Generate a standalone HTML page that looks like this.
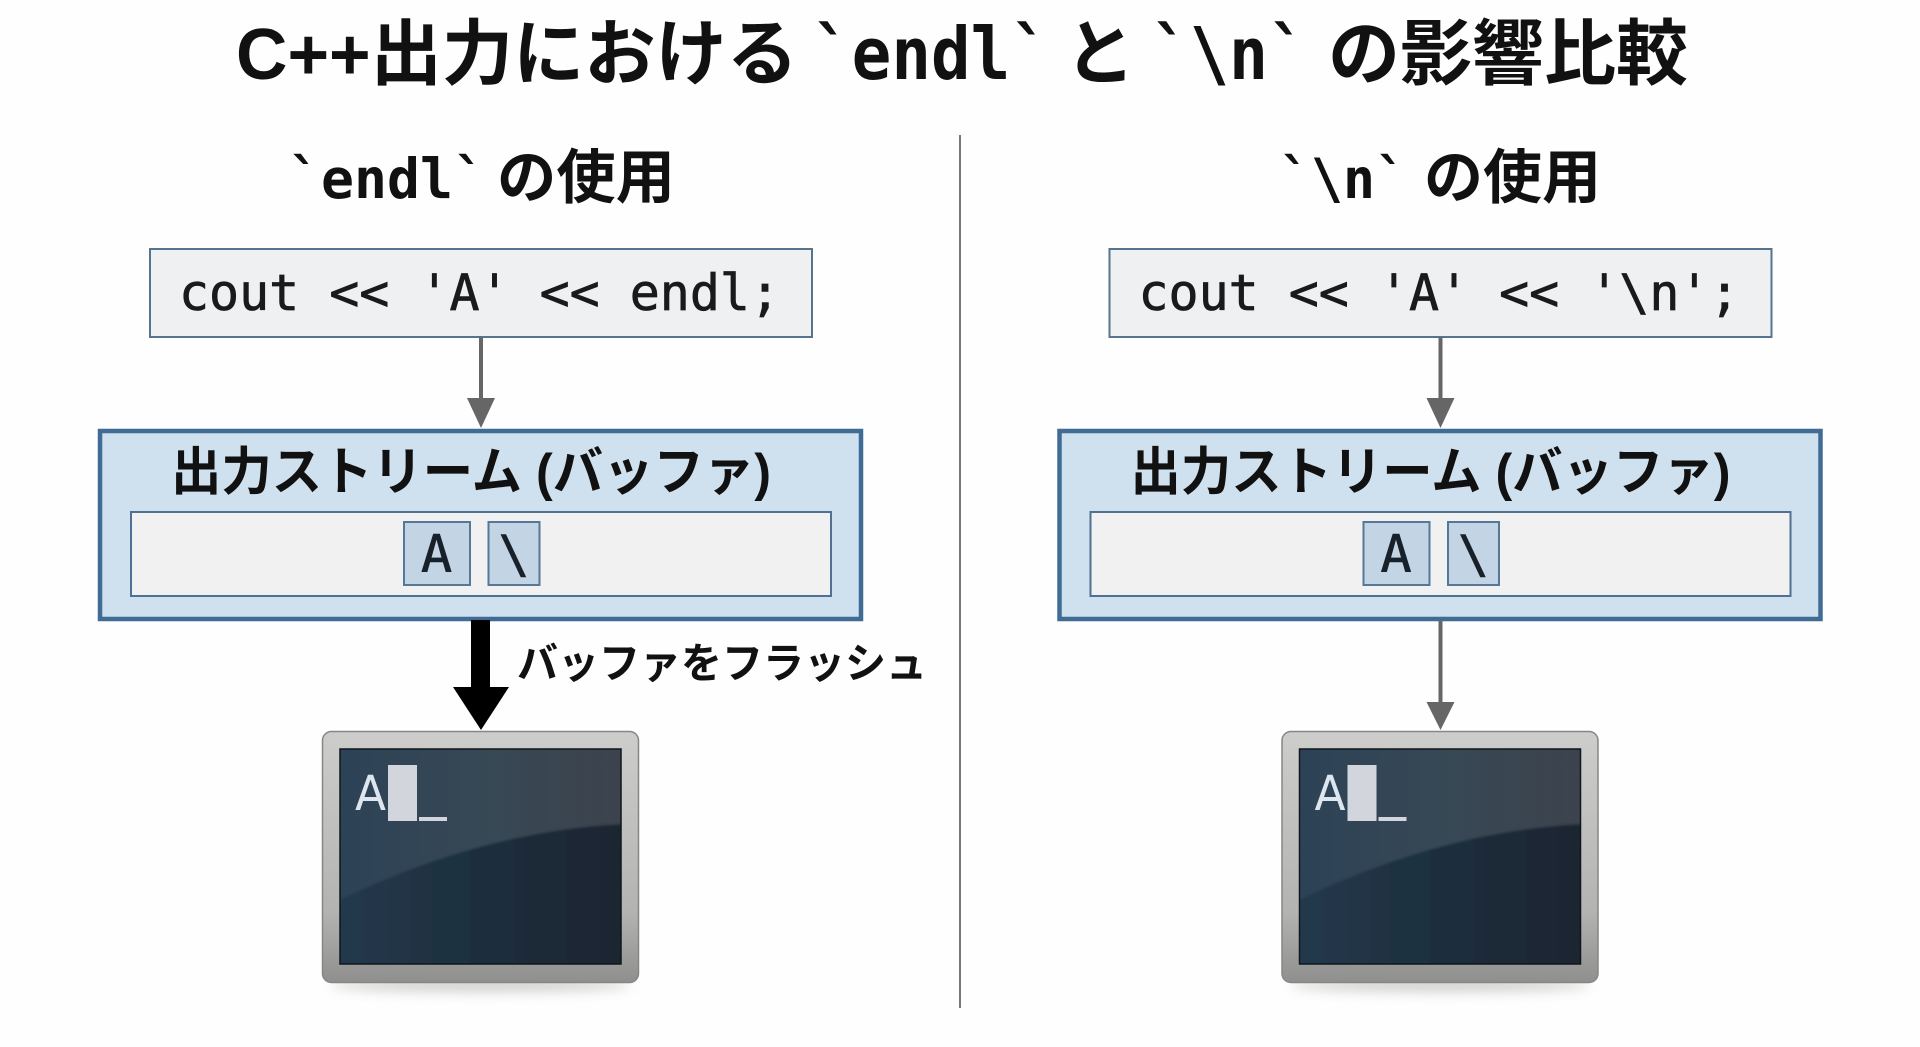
<!DOCTYPE html>
<html lang="ja">
<head>
<meta charset="utf-8">
<title>C++出力における endl と \n の影響比較</title>
<style>
html,body{margin:0;padding:0;background:#fefefe;width:1920px;height:1047px;overflow:hidden}
svg{display:block}
.jp{font-family:"Liberation Sans","Noto Sans CJK JP",sans-serif;font-weight:700;fill:#111}
.m{font-family:"DejaVu Sans Mono","Liberation Mono",monospace;fill:#111}
.b{font-weight:700}
.code{font-family:"DejaVu Sans Mono","Liberation Mono",monospace;font-size:50px;fill:#1a1a1a;stroke:#1a1a1a;stroke-width:.7px}
.cell{font-family:"DejaVu Sans Mono","Liberation Mono",monospace;font-size:52px;fill:#18202a;stroke:#18202a;stroke-width:.6px;text-anchor:middle}
.term{font-family:"DejaVu Sans","Liberation Sans",sans-serif;font-size:48px;fill:#dde5ee}
</style>
</head>
<body>
<svg width="1920" height="1047" viewBox="0 0 1920 1047" xmlns="http://www.w3.org/2000/svg">
<defs>
<linearGradient id="frame" x1="0" y1="0" x2="0" y2="1">
<stop offset="0" stop-color="#cdcdcb"/><stop offset=".72" stop-color="#b3b3b1"/><stop offset="1" stop-color="#8f8f8e"/>
</linearGradient>
<linearGradient id="scr" x1="0" y1="0" x2="1" y2="0">
<stop offset="0" stop-color="#2c4256"/><stop offset=".5" stop-color="#374855"/><stop offset="1" stop-color="#3c434d"/>
</linearGradient>
<linearGradient id="low" x1="0" y1="0" x2="1" y2="0">
<stop offset="0" stop-color="#24394e"/><stop offset=".55" stop-color="#1d2e3c"/><stop offset="1" stop-color="#1b2431"/>
</linearGradient>
<filter id="blur" x="-20%" y="-100%" width="140%" height="300%"><feGaussianBlur stdDeviation="6"/></filter>
<filter id="soft" x="-5%" y="-5%" width="110%" height="110%"><feGaussianBlur stdDeviation="1"/></filter>
<clipPath id="clipL"><rect x="340" y="749" width="281" height="215"/></clipPath>
<clipPath id="clipR"><rect x="1299.500" y="749" width="281" height="215"/></clipPath>
</defs>

<rect width="1920" height="1047" fill="#fefefe"/>

<!-- title -->
<text class="jp" x="236" y="79" font-size="72" textLength="562" lengthAdjust="spacingAndGlyphs">C++出力における</text>
<text class="m b" x="812" y="79" font-size="72" textLength="238" lengthAdjust="spacingAndGlyphs">`endl`</text>
<text class="jp" x="1065" y="79" font-size="72" textLength="70" lengthAdjust="spacingAndGlyphs">と</text>
<text class="m b" x="1151" y="79" font-size="72" textLength="156" lengthAdjust="spacingAndGlyphs">`\n`</text>
<text class="jp" x="1328" y="79" font-size="72" textLength="360" lengthAdjust="spacingAndGlyphs">の影響比較</text>

<!-- divider -->
<rect x="959" y="135" width="2" height="873" fill="#777"/>

<!-- LEFT -->
<text class="m b" x="288" y="198" font-size="55" textLength="198" lengthAdjust="spacingAndGlyphs">`endl`</text>
<text class="jp" x="497" y="198" font-size="59" textLength="178" lengthAdjust="spacingAndGlyphs">の使用</text>

<rect x="150" y="249" width="662" height="88" fill="#eef0f2" stroke="#56748f" stroke-width="2"/>
<text class="code" x="179" y="310" textLength="601" lengthAdjust="spacingAndGlyphs">cout &lt;&lt; 'A' &lt;&lt; endl;</text>

<rect x="479" y="337" width="4" height="65" fill="#666"/>
<polygon points="467,398 495,398 481,428" fill="#666"/>

<rect x="100" y="431" width="761" height="188" fill="#cfe0ee" stroke="#3f6b95" stroke-width="4.5"/>
<text class="jp" x="171" y="490" font-size="52" textLength="600" lengthAdjust="spacingAndGlyphs">出力ストリーム (バッファ)</text>
<rect x="131" y="512" width="700" height="84" fill="#f1f1f1" stroke="#4f7192" stroke-width="2"/>
<rect x="404" y="522" width="66" height="63" fill="#c3d4e4" stroke="#557896" stroke-width="2"/>
<text class="cell" x="436.500" y="572">A</text>
<rect x="488.500" y="522" width="51" height="63" fill="#c3d4e4" stroke="#557896" stroke-width="2"/>
<text class="cell" x="514" y="572">\</text>

<rect x="471" y="620" width="19" height="68" fill="#000"/>
<polygon points="453,687 509,687 481,730" fill="#000"/>
<text class="jp" x="517" y="678" font-size="42" textLength="410" lengthAdjust="spacingAndGlyphs">バッファをフラッシュ</text>

<ellipse cx="481" cy="985" rx="150" ry="7" fill="#999" opacity=".45" filter="url(#blur)"/>
<rect x="322.500" y="731.500" width="316" height="251" rx="9" fill="url(#frame)" stroke="#868685" stroke-width="1.500"/>
<rect x="340" y="749" width="281" height="215" fill="url(#scr)"/>
<g clip-path="url(#clipL)"><path d="M330 905 C 420 860 520 828 630 824 L630 975 L330 975 Z" fill="url(#low)" filter="url(#soft)"/></g>
<rect x="340" y="749" width="281" height="215" fill="none" stroke="#10161c" stroke-width="1.500"/>
<text class="term" x="355" y="810" textLength="31" lengthAdjust="spacingAndGlyphs">A</text>
<rect x="388" y="765" width="29" height="56" fill="#d2d6dc"/>
<rect x="419" y="817" width="28" height="4" fill="#d2d6dc"/>

<!-- RIGHT -->
<text class="m b" x="1279" y="198" font-size="55" textLength="128" lengthAdjust="spacingAndGlyphs">`\n`</text>
<text class="jp" x="1424" y="198" font-size="59" textLength="177" lengthAdjust="spacingAndGlyphs">の使用</text>

<rect x="1109.500" y="249" width="662" height="88" fill="#eef0f2" stroke="#56748f" stroke-width="2"/>
<text class="code" x="1138.500" y="310" textLength="601" lengthAdjust="spacingAndGlyphs">cout &lt;&lt; 'A' &lt;&lt; '\n';</text>

<rect x="1438.500" y="337" width="4" height="65" fill="#666"/>
<polygon points="1426.500,398 1454.500,398 1440.500,428" fill="#666"/>

<rect x="1059.500" y="431" width="761" height="188" fill="#cfe0ee" stroke="#3f6b95" stroke-width="4.5"/>
<text class="jp" x="1130.500" y="490" font-size="52" textLength="600" lengthAdjust="spacingAndGlyphs">出力ストリーム (バッファ)</text>
<rect x="1090.500" y="512" width="700" height="84" fill="#f1f1f1" stroke="#4f7192" stroke-width="2"/>
<rect x="1363.500" y="522" width="66" height="63" fill="#c3d4e4" stroke="#557896" stroke-width="2"/>
<text class="cell" x="1396" y="572">A</text>
<rect x="1448" y="522" width="51" height="63" fill="#c3d4e4" stroke="#557896" stroke-width="2"/>
<text class="cell" x="1473.500" y="572">\</text>

<rect x="1438.500" y="620" width="4" height="86" fill="#666"/>
<polygon points="1426.500,702 1454.500,702 1440.500,730" fill="#666"/>

<ellipse cx="1440.500" cy="985" rx="150" ry="7" fill="#999" opacity=".45" filter="url(#blur)"/>
<rect x="1282" y="731.500" width="316" height="251" rx="9" fill="url(#frame)" stroke="#868685" stroke-width="1.500"/>
<rect x="1299.500" y="749" width="281" height="215" fill="url(#scr)"/>
<g clip-path="url(#clipR)"><path d="M1289.500 905 C 1379.500 860 1479.500 828 1589.500 824 L1589.500 975 L1289.500 975 Z" fill="url(#low)" filter="url(#soft)"/></g>
<rect x="1299.500" y="749" width="281" height="215" fill="none" stroke="#10161c" stroke-width="1.500"/>
<text class="term" x="1314.500" y="810" textLength="31" lengthAdjust="spacingAndGlyphs">A</text>
<rect x="1347.500" y="765" width="29" height="56" fill="#d2d6dc"/>
<rect x="1378.500" y="817" width="28" height="4" fill="#d2d6dc"/>
</svg>
</body>
</html>
